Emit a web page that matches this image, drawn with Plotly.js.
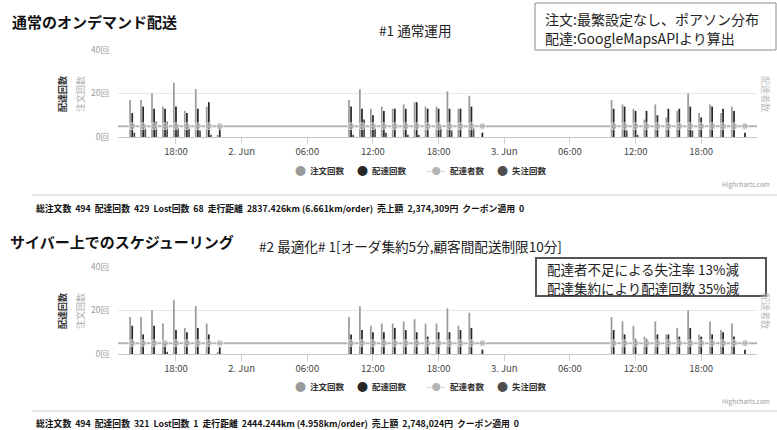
<!DOCTYPE html>
<html><head><meta charset="utf-8">
<script src="https://cdn.plot.ly/plotly-3.0.1.min.js"></script>
<style>html,body{margin:0;padding:0;background:#fff}#c{width:777px;height:430px}</style>
</head><body><div id="c"></div>
<script>
const times = [
 "2015-06-01 14:00","2015-06-01 15:00","2015-06-01 16:00","2015-06-01 17:00","2015-06-01 18:00","2015-06-01 19:00","2015-06-01 20:00","2015-06-01 21:00","2015-06-01 22:00",
 "2015-06-02 10:00","2015-06-02 11:00","2015-06-02 12:00","2015-06-02 13:00","2015-06-02 14:00","2015-06-02 15:00","2015-06-02 16:00","2015-06-02 17:00","2015-06-02 18:00","2015-06-02 19:00","2015-06-02 20:00","2015-06-02 21:00","2015-06-02 22:00",
 "2015-06-03 10:00","2015-06-03 11:00","2015-06-03 12:00","2015-06-03 13:00","2015-06-03 14:00","2015-06-03 15:00","2015-06-03 16:00","2015-06-03 17:00","2015-06-03 18:00","2015-06-03 19:00","2015-06-03 20:00","2015-06-03 21:00","2015-06-03 22:00"];
const xRange = ["2015-06-01 12:42","2015-06-03 23:06"];
const tickVals = ["2015-06-01 18:00","2015-06-02 00:00","2015-06-02 06:00","2015-06-02 12:00","2015-06-02 18:00","2015-06-03 00:00","2015-06-03 06:00","2015-06-03 12:00","2015-06-03 18:00"];
const tickText = ["18:00","2. Jun","06:00","12:00","18:00","3. Jun","06:00","12:00","18:00"];
const yTickVals = [0,20,40];
const yTickText = ["0回","20回","40回"];
const seriesNames = ["注文回数","配達回数","配達者数","失注回数"];

// #1 通常運用
const orders1     = [17,17,20,14,25,12,22,14,1, 17,22,13,14,13,15,16,14,14,21,13,19,0, 17,15,13,8,15,9,12,20,11,15,11,14,0];
const deliveries1 = [11,14,13,13,14,11,13,16,4, 14,13,10,12,13,13,16,13,13,13,13,14,2, 13,14,12,12,10,13,13,14,9,14,13,12,2];
const riders1     = [5,5,5,5,5,5,5,5,5, 5,5,5,5,5,5,5,5,5,5,5,5,5, 5,5,5,5,5,5,5,5,5,5,5,5,5];
const lost1       = [2,4,7,7,4,4,3,1,0, 1,8,4,2,0,1,1,0,5,3,0,4,0, 0,3,1,0,0,0,0,3,0,0,0,0,0];
// #2 最適化
const orders2     = [17,17,20,14,25,12,22,14,1, 17,22,13,14,14,15,16,14,14,21,13,19,0, 17,15,13,8,15,9,12,20,9,15,11,14,0];
const deliveries2 = [13,9,13,5,11,10,12,9,3, 9,11,10,10,12,11,10,8,10,10,11,12,2, 11,9,7,7,9,9,8,12,8,9,10,8,2];
const riders2     = [5,5,5,5,5,5,5,5,5, 5,5,5,5,5,5,5,5,5,5,5,5,5, 5,5,5,5,5,5,5,5,5,5,5,5,5];
const lost2       = [0,0,0,1,0,0,0,0,0, 0,0,0,0,0,0,0,0,0,0,0,0,0, 0,0,0,0,0,0,0,0,0,0,0,0,0];

const stats1 = "総注文数  494  配達回数  429  Lost回数  68  走行距離  2837.426km (6.661km/order)  売上額  2,374,309円  クーポン適用  0";
const stats2 = "総注文数  494  配達回数  321  Lost回数  1  走行距離  2444.244km (4.958km/order)  売上額  2,748,024円  クーポン適用  0";

const W = 777, H = 430;
const px = x => x / W, py = y => 1 - y / H;
const JP = '"Noto Sans CJK JP", "Noto Sans", sans-serif';
const C_ORD = '#9b9b9b', C_DEL = '#262626', C_RID = '#b4b4b4', C_LOST = '#4e4e4e';

function panel(xa, ya, orders, deliveries, riders, lost) {
  const lineX = [xRange[0]].concat(times, [xRange[1]]);
  const lineY = [riders[0]].concat(riders, [riders[riders.length - 1]]);
  const sizes = [0].concat(riders.map(() => 7), [0]);
  return [
    {type:'bar', x:times, y:orders, name:seriesNames[0], xaxis:xa, yaxis:ya, marker:{color:C_ORD}, showlegend:false},
    {type:'bar', x:times, y:deliveries, name:seriesNames[1], xaxis:xa, yaxis:ya, marker:{color:C_DEL}, showlegend:false},
    {type:'bar', x:times, y:lost, name:seriesNames[3], xaxis:xa, yaxis:ya, marker:{color:C_LOST}, showlegend:false},
    {type:'scatter', mode:'lines+markers', x:lineX, y:lineY, name:seriesNames[2], xaxis:xa, yaxis:ya,
     line:{color:C_RID, width:2}, marker:{color:C_RID, size:sizes}, showlegend:false}
  ];
}

const data = panel('x','y',orders1,deliveries1,riders1,lost1).concat(panel('x2','y2',orders2,deliveries2,riders2,lost2));

function xax(anchor) {
  return {domain:[px(118), px(757)], range:xRange, type:'date', anchor:anchor,
    tickvals:tickVals, ticktext:tickText, ticks:'outside', ticklen:6, tickcolor:'#cfcfcf',
    showline:true, linecolor:'#c8c8c8', linewidth:1, showgrid:false, zeroline:false,
    tickfont:{family:JP, size:9.5, color:'#444'}, fixedrange:true};
}
function yax(anchor, top, bottom) {
  return {domain:[py(bottom), py(top)], range:[0,40], anchor:anchor, tickvals:yTickVals, ticktext:yTickText,
    showgrid:true, gridcolor:'#e8e8e8', gridwidth:1, zeroline:false, showline:false,
    tickfont:{family:JP, size:8.5, color:'#9a9a9a'}, ticks:'', ticklabelstandoff:8};
}

const ann = [];
function t(x, y, text, size, color, opts) {
  ann.push(Object.assign({xref:'paper', yref:'paper', x:px(x), y:py(y), text:text, showarrow:false,
    xanchor:'left', yanchor:'middle', font:{family:JP, size:size, color:color}}, opts || {}));
}
// titles
t(10, 21, '<b>通常のオンデマンド配送</b>', 15, '#111');
t(415, 30, '#1 通常運用', 13.6, '#222', {xanchor:'center'});
t(543, 19, '注文:最繁設定なし、ポアソン分布', 14, '#222');
t(543, 38, '配達:GoogleMapsAPIより算出', 14, '#222');
t(8, 241, '<b>サイバー上でのスケジューリング</b>', 15, '#111');
t(410, 246, '#2 最適化# 1[オーダ集約5分,顧客間配送制限10分]', 13.6, '#222', {xanchor:'center'});
t(545, 269, '配達者不足による失注率 13%減', 13.5, '#222');
t(545, 288, '配達集約により配達回数 35%減', 13.5, '#222');

function axisTitles(yc) {
  t(62, yc, '<b>配達回数</b>', 9, '#333', {xanchor:'center', textangle:-90});
  t(80, yc, '注文回数', 9, '#aaa', {xanchor:'center', textangle:-90});
  t(766, yc, '配達者数', 9, '#bbb', {xanchor:'center', textangle:90});
}
axisTitles(94); axisTitles(311);

function legend(y) {
  t(300, y, '●', 11, C_ORD, {xanchor:'center'});
  t(308, y, '<b>' + seriesNames[0] + '</b>', 8.5, '#333');
  t(362, y, '●', 11, C_DEL, {xanchor:'center'});
  t(370, y, '<b>' + seriesNames[1] + '</b>', 8.5, '#333');
  t(436, y, '–●–', 9, C_RID, {xanchor:'center'});
  t(448, y, '<b>' + seriesNames[2] + '</b>', 8.5, '#333');
  t(502, y, '●', 11, C_LOST, {xanchor:'center'});
  t(510, y, '<b>' + seriesNames[3] + '</b>', 8.5, '#333');
}
legend(170); legend(386);
t(772, 184, 'Highcharts.com', 6.5, '#999', {xanchor:'right'});
t(772, 401, 'Highcharts.com', 6.5, '#999', {xanchor:'right'});
t(34, 208, '<b>' + stats1 + '</b>', 8.8, '#111');
t(34, 423, '<b>' + stats2 + '</b>', 8.8, '#111');

const shapes = [
  {type:'rect', xref:'paper', yref:'paper', x0:px(535), x1:px(776), y0:py(50), y1:py(3), line:{color:'#8a8a8a', width:1}, fillcolor:'rgba(255,255,255,0)'},
  {type:'rect', xref:'paper', yref:'paper', x0:px(536), x1:px(766), y0:py(296), y1:py(258), line:{color:'#555', width:2}, fillcolor:'#fff'},
  {type:'line', xref:'paper', yref:'paper', x0:px(32), x1:px(777), y0:py(195), y1:py(195), line:{color:'#dcdcdc', width:1.5}},
  {type:'line', xref:'paper', yref:'paper', x0:px(32), x1:px(777), y0:py(411), y1:py(411), line:{color:'#dcdcdc', width:1.5}}
];

const layout = {
  width:W, height:H, margin:{l:0,r:0,t:0,b:0}, paper_bgcolor:'#fff', plot_bgcolor:'#fff',
  showlegend:false, barmode:'group', bargap:0.42, bargroupgap:0.18,
  xaxis:xax('y'), yaxis:yax('x', 50, 137),
  xaxis2:xax('y2'), yaxis2:yax('x2', 267, 354),
  annotations:ann, shapes:shapes, font:{family:JP}
};
Plotly.newPlot('c', data, layout, {staticPlot:true, displayModeBar:false});
</script></body></html>
